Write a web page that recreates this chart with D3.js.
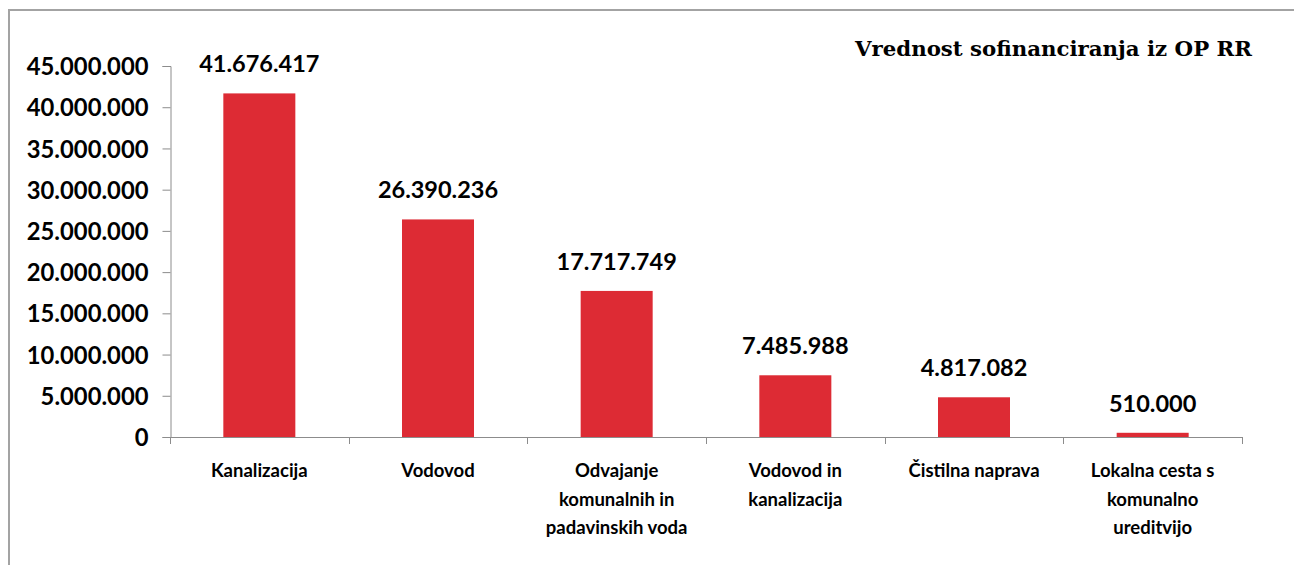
<!DOCTYPE html>
<html><head><meta charset="utf-8">
<script src="https://cdn.jsdelivr.net/npm/d3@7"></script>
<style>body{margin:0;background:#fff}svg{display:block}</style>
</head><body>
<svg id="c" width="1294" height="565"></svg>
<script>
const categories = [
  ["Kanalizacija"],
  ["Vodovod"],
  ["Odvajanje", "komunalnih in", "padavinskih voda"],
  ["Vodovod in", "kanalizacija"],
  ["Čistilna naprava"],
  ["Lokalna cesta s", "komunalno", "ureditvijo"]
];
const values = [41676417, 26390236, 17717749, 7485988, 4817082, 510000];
const yTicks = [0, 5000000, 10000000, 15000000, 20000000, 25000000, 30000000, 35000000, 40000000, 45000000];
const title = "Vrednost sofinanciranja iz OP RR";

const fmt = v => d3.format(",")(v).replace(/,/g, ".");
const svg = d3.select("#c");
const pL = 170, pR = 1242, pT = 66, pB = 437;

svg.append("rect").attr("x", 9).attr("y", 10).attr("width", 1400).attr("height", 700)
  .attr("fill", "none").attr("stroke", "#a3a3a3").attr("stroke-width", 2);

const x = d3.scaleBand().domain(d3.range(categories.length)).range([pL, pR]).paddingInner(0.597).paddingOuter(0.2985);
const xOuter = d3.scaleBand().domain(d3.range(categories.length)).range([pL, pR]);
const y = d3.scaleLinear().domain([0, 45000000]).range([pB, pT]);

const font = "Lato, 'Open Sans', sans-serif";

// y axis
const ya = svg.append("g").attr("transform", `translate(${pL + 0.5},0)`)
  .call(d3.axisLeft(y).tickValues(yTicks).tickFormat(fmt).tickSize(8).tickPadding(14));
ya.select(".domain").attr("stroke", "#8c8c8c");
ya.selectAll(".tick line").attr("stroke", "#8c8c8c");
ya.selectAll(".tick text").attr("font-family", font).attr("font-weight", "bold")
  .attr("font-size", 23.8).attr("fill", "#000").attr("dy", "0.36em");

// x axis baseline + category boundary ticks
const xa = svg.append("g");
xa.append("line").attr("x1", pL).attr("x2", pR).attr("y1", pB + 0.5).attr("y2", pB + 0.5).attr("stroke", "#8c8c8c");
const bounds = d3.range(categories.length + 1).map(i => i < categories.length ? xOuter(i) : pR);
xa.selectAll("line.b").data(bounds).enter().append("line").attr("class", "b")
  .attr("x1", d => Math.round(d) + 0.5).attr("x2", d => Math.round(d) + 0.5)
  .attr("y1", pB).attr("y2", pB + 7).attr("stroke", "#8c8c8c");

// bars
svg.selectAll("rect.bar").data(values).enter().append("rect").attr("class", "bar")
  .attr("x", (d, i) => x(i)).attr("width", x.bandwidth())
  .attr("y", d => y(d)).attr("height", d => pB - y(d))
  .attr("fill", "#dd2b34");

// value labels
svg.selectAll("text.val").data(values).enter().append("text").attr("class", "val")
  .attr("x", (d, i) => x(i) + x.bandwidth() / 2).attr("y", d => y(d) - 21)
  .attr("text-anchor", "middle").attr("font-family", font).attr("font-weight", "bold")
  .attr("font-size", 23.5).attr("fill", "#000").text(fmt);

// category labels
const cl = svg.selectAll("text.cat").data(categories).enter().append("text").attr("class", "cat")
  .attr("text-anchor", "middle").attr("font-family", font).attr("font-weight", "bold")
  .attr("font-size", 18.5).attr("fill", "#000");
cl.each(function(lines, i) {
  const t = d3.select(this);
  lines.forEach((ln, j) => t.append("tspan").attr("x", xOuter(i) + xOuter.bandwidth() / 2)
    .attr("y", 477 + j * 28.5).text(ln));
});

// title
svg.append("text").attr("x", 1252).attr("y", 56).attr("text-anchor", "end")
  .attr("font-family", "'DejaVu Serif', 'Liberation Serif', serif").attr("font-weight", "bold")
  .attr("font-size", 21.3).attr("fill", "#000").text(title);
</script>
</body></html>
